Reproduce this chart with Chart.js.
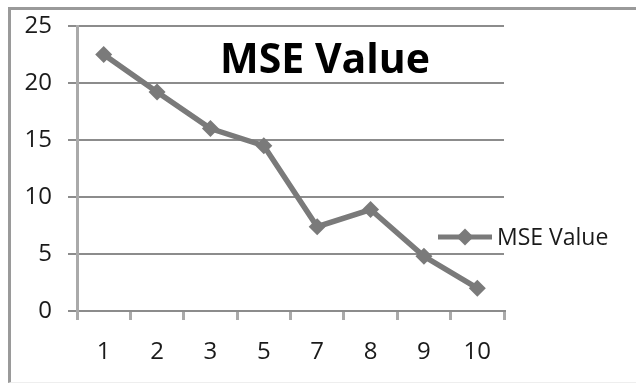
<!DOCTYPE html>
<html>
<head>
<meta charset="utf-8">
<script src="https://cdn.jsdelivr.net/npm/chart.js@4/dist/chart.umd.min.js"></script>
<style>
  html, body { margin: 0; padding: 0; background: #fff; }
  #frame {
    position: absolute; left: 8px; top: 7px; width: 640px; height: 372px;
    border-top: 3px solid #9a9a9a; border-left: 3px solid #9a9a9a; border-bottom: 1px solid #eee;
  }
  #wrap { position: absolute; left: 0; top: 0; width: 636px; height: 383px; }
</style>
</head>
<body>
<div id="frame"></div>
<div id="wrap"><canvas id="mseChart" width="636" height="383"></canvas></div>
<script>
const chartTitle = "MSE Value";
const seriesLabel = "MSE Value";
const categories = ["1", "2", "3", "5", "7", "8", "9", "10"];
const mseValues = [22.5, 19.2, 16.0, 14.5, 7.4, 8.9, 4.8, 2.0];
const yTicks = [0, 5, 10, 15, 20, 25];

const lineColor = "#7a7a7a";

// title and legend sit on top of the plot, like the original
const overlayText = {
  id: "overlayText",
  afterDraw(chart) {
    const ctx = chart.ctx;
    ctx.save();
    ctx.fillStyle = "#000";
    ctx.font = "bold 41px 'Open Sans'";
    ctx.textAlign = "center";
    ctx.textBaseline = "alphabetic";
    ctx.fillText(chartTitle, 325, 73);

    const ds = chart.data.datasets[0];
    const ly = 237;
    ctx.strokeStyle = ds.borderColor;
    ctx.lineWidth = 5;
    ctx.beginPath();
    ctx.moveTo(438, ly);
    ctx.lineTo(492, ly);
    ctx.stroke();
    ctx.fillStyle = ds.backgroundColor;
    Chart.helpers.drawPoint(ctx, { pointStyle: "rectRot", radius: 8.5, borderWidth: 0 }, 465, ly);
    ctx.fillStyle = "#1a1a1a";
    ctx.font = "23px 'Open Sans'";
    ctx.textAlign = "left";
    ctx.fillText(ds.label, 497, ly + 8);
    ctx.restore();
  }
};

new Chart(document.getElementById("mseChart"), {
  type: "line",
  data: {
    labels: categories,
    datasets: [{
      label: seriesLabel,
      data: mseValues,
      borderColor: lineColor,
      backgroundColor: lineColor,
      borderWidth: 5.5,
      tension: 0,
      pointStyle: "rectRot",
      pointRadius: 8.5,
      pointBorderWidth: 0,
      pointBackgroundColor: lineColor
    }]
  },
  options: {
    responsive: false,
    animation: false,
    layout: { padding: { left: 0, right: 132, top: 26, bottom: 0 } },
    plugins: {
      legend: { display: false },
      title: { display: false },
      tooltip: { enabled: false }
    },
    scales: {
      x: {
        offset: true,
        afterFit(scale) { scale.height = 72; },
        grid: { drawOnChartArea: false, drawTicks: true, tickLength: 9, color: "#aaaaaa", lineWidth: 3, offset: true },
        border: { color: "#8c8c8c", width: 2 },
        ticks: { color: "#1a1a1a", padding: 18, font: { family: "Open Sans", size: 24 } }
      },
      y: {
        min: 0,
        max: 25,
        afterFit(scale) { scale.width = 77; scale.paddingTop = 0; },
        afterBuildTicks(scale) { scale.ticks = yTicks.map(v => ({ value: v })); },
        grid: { color: "#8c8c8c", lineWidth: 2, tickLength: 9 },
        border: { color: "#aaaaaa", width: 3 },
        ticks: { color: "#1a1a1a", padding: 16, font: { family: "Open Sans", size: 24, lineHeight: 1 } }
      }
    }
  },
  plugins: [overlayText]
});
</script>
</body>
</html>
